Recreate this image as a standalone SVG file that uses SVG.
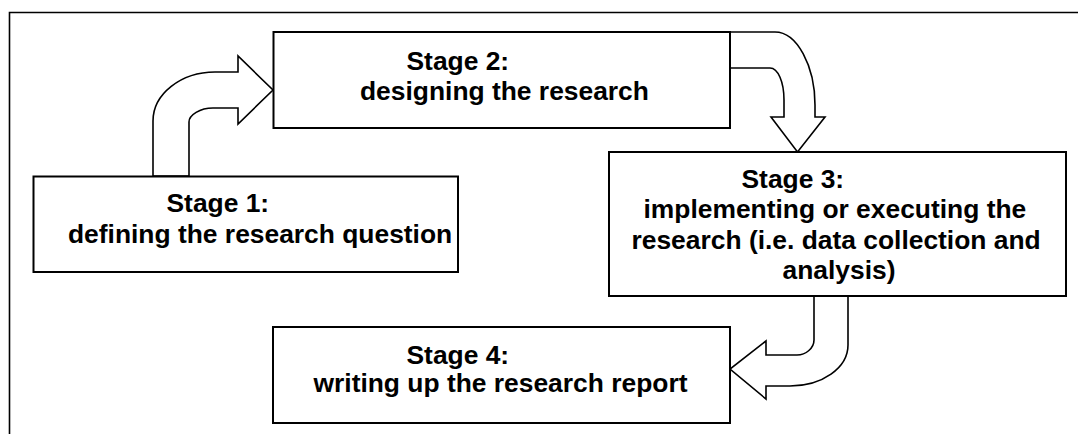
<svg xmlns="http://www.w3.org/2000/svg" width="1078" height="434" viewBox="0 0 1078 434">
  <style>
    .frame { fill: none; stroke: #000; stroke-width: 1.6; }
    .box { fill: #fff; stroke: #000; stroke-width: 2; }
    .bend { fill: #fff; stroke: #000; stroke-width: 1.6; stroke-linejoin: miter; }
    .label { font-family: "Liberation Sans", Arial, sans-serif; font-weight: bold; font-size: 26.4px; fill: #000; }
  </style>
  <rect width="1078" height="434" fill="#fff"/>
  <!-- outer frame, open on the right and bottom -->
  <path class="frame" d="M9.5,434 V12.5 H1078"/>

  <g id="connectors">
    <!-- Stage 1 -> Stage 2: bent arrow going up then right -->
    <path class="bend" d="M153,176 V121 C153,94 181,72 215,72 H238 V56 L273,90 L238,124 V108 H213 C200,108 189,115 189,122 V176 Z"/>
    <!-- Stage 2 -> Stage 3: bent arrow going right then down -->
    <path class="bend" d="M730,32 H775 C797,32 815,66 815,105 V117 H825 L797.5,152 L771,117 H784 V100 C784,82 778,68 770,68 H730 Z"/>
    <!-- Stage 3 -> Stage 4: bent arrow going down then left -->
    <path class="bend" d="M848,296 V345 C848,368 822,386 790,386 H766 V399 L730,369 L766,341 V355 H797 C806,355 814,348 814,340 V296 Z"/>
  </g>

  <g id="stage1">
    <rect class="box" x="33.5" y="176.5" width="424.5" height="95.5"/>
    <text class="label" x="166.5" y="212">Stage 1:</text>
    <text class="label" x="68" y="242.5">defining the research question</text>
  </g>

  <g id="stage2">
    <rect class="box" x="273.5" y="32" width="456.5" height="96"/>
    <text class="label" x="406.5" y="70">Stage 2:</text>
    <text class="label" x="360" y="100">designing the research</text>
  </g>

  <g id="stage3">
    <rect class="box" x="609" y="152" width="457" height="144"/>
    <text class="label" x="741.5" y="187.5">Stage 3:</text>
    <text class="label" x="643.5" y="218">implementing or executing the</text>
    <text class="label" x="631.5" y="248.5">research (i.e. data collection and</text>
    <text class="label" x="782.5" y="278.5">analysis)</text>
  </g>

  <g id="stage4">
    <rect class="box" x="273" y="327" width="457" height="96"/>
    <text class="label" x="406.5" y="363.5">Stage 4:</text>
    <text class="label" x="313.5" y="392">writing up the research report</text>
  </g>
</svg>
